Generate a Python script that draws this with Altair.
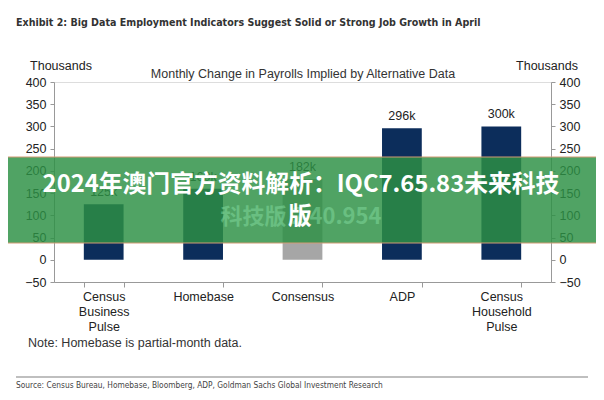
import altair as alt
import pandas as pd

categories = ["Census|Business|Pulse", "Homebase", "Consensus", "ADP", "Census|Household|Pulse"]
values = [125, 160, 182, 296, 300]
value_labels = ["125k", "160k", "182k", "296k", "300k"]
kinds = ["indicator", "indicator", "consensus", "indicator", "indicator"]
y_ticks = [-50, 0, 50, 100, 150, 200, 250, 300, 350, 400]

df = pd.DataFrame({"cat": categories, "val": values, "lab": value_labels, "kind": kinds})

W, H = 497, 200
PL, PT = 46, 74
FONT = "Arial, Liberation Sans, sans-serif"
NARROW = "DejaVu Sans Condensed"
CJK = "Noto Sans CJK SC, sans-serif"

yscale = alt.Scale(domain=[-50, 400], nice=False, zero=False)
xenc = alt.X("cat:N", sort=categories,
             scale=alt.Scale(paddingInner=0.6, paddingOuter=0.3),
             axis=alt.Axis(title=None, labelExpr="split(datum.label, '|')", labelAngle=0,
                           tickBand="extent", tickSize=5, labelPadding=3,
                           labelFontSize=12.5, labelLineHeight=15, labelFont=FONT,
                           labelColor="#222", domainColor="#999", tickColor="#999",
                           labelBaseline="top"))

def yaxis(orient):
    return alt.Axis(title=None, orient=orient, values=y_ticks, grid=False, tickSize=4,
                    labelPadding=4, labelFontSize=12.5, labelFont=FONT, labelColor="#222",
                    domainColor="#999", tickColor="#999")

bars = alt.Chart(df).mark_bar().encode(
    x=xenc,
    y=alt.Y("val:Q", scale=yscale, axis=yaxis("left")),
    y2=alt.datum(0),
    color=alt.Color("kind:N", scale=alt.Scale(domain=["indicator", "consensus"],
                                              range=["#0c2d5b", "#a6a6a6"]), legend=None),
)

labels = alt.Chart(df).mark_text(baseline="bottom", dy=-5, fontSize=12.5, font=FONT, color="#222").encode(
    x=alt.X("cat:N", sort=categories),
    y=alt.Y("val:Q", scale=yscale, axis=yaxis("right")),
    text="lab:N",
)

one = alt.Data(values=[{}])

def txt(text, px, py, **kw):
    return alt.Chart(one).mark_text(text=text, **kw).encode(
        x=alt.value(px - 8 - PL), y=alt.value(py - 8 - PT))

def hline(x1, x2, py, color, w):
    return alt.Chart(one).mark_rule(color=color, strokeWidth=w).encode(
        x=alt.value(x1 - 8 - PL), x2=alt.value(x2 - 8 - PL), y=alt.value(py - 8 - PT))

annot = [
    hline(16, 588, 7, "#aaaaaa", 1.5),
    txt("Exhibit 2: Big Data Employment Indicators Suggest Solid or Strong Job Growth in April",
        16, 23, align="left", baseline="middle", font=NARROW, fontSize=10.6, fontWeight="bold", color="#333"),
    txt("Thousands", 61, 66, align="center", baseline="middle", font=FONT, fontSize=12.5, color="#222"),
    txt("Thousands", 547, 66, align="center", baseline="middle", font=FONT, fontSize=12.5, color="#222"),
    txt("Monthly Change in Payrolls Implied by Alternative Data", 303, 74, align="center",
        baseline="middle", font=FONT, fontSize=12.5, color="#333"),
    txt("Note: Homebase is partial-month data.", 28, 343, align="left", baseline="middle",
        font=FONT, fontSize=12.5, color="#333"),
    hline(16, 588, 377, "#aaaaaa", 1.5),
    txt("Source: Census Bureau, Homebase, Bloomberg, ADP, Goldman Sachs Global Investment Research",
        16, 386, align="left", baseline="middle", font=NARROW, fontSize=8.3, color="#444"),
]

banner = alt.Chart(one).mark_rect(color="#2c9044", opacity=0.83).encode(
    x=alt.value(0 - 8 - PL), x2=alt.value(604 - 8 - PL),
    y=alt.value(157 - 8 - PT), y2=alt.value(243 - 8 - PT))

banner_layers = [
    banner,
    hline(0, 604, 157, "#d29a74", 1),
    hline(0, 604, 243, "#d29a74", 1),
    txt("科技版 2 40.954", 301, 217, align="center", baseline="middle", font=CJK, fontSize=22,
        fontWeight="bold", color="#7ed69a", opacity=0.55),
    txt("2024年澳门官方资料解析：IQC7.65.83未来科技", 301, 185, align="center", baseline="middle",
        font=CJK, fontSize=23.8, fontWeight="bold", color="#ffffff"),
    txt("版", 300, 217, align="center", baseline="middle", font=CJK, fontSize=23.8,
        fontWeight="bold", color="#ffffff"),
]

chart = alt.layer(bars, labels, *annot, *banner_layers).resolve_scale(y="independent").properties(
    width=W, height=H,
    autosize=alt.AutoSizeParams(type="none"),
    padding={"left": PL, "top": PT, "right": 588 - PL - W, "bottom": 384 - PT - H},
).configure_view(stroke=None).configure(background="white")

chart.save("out.html", embed_options={"renderer": "svg", "actions": False})
